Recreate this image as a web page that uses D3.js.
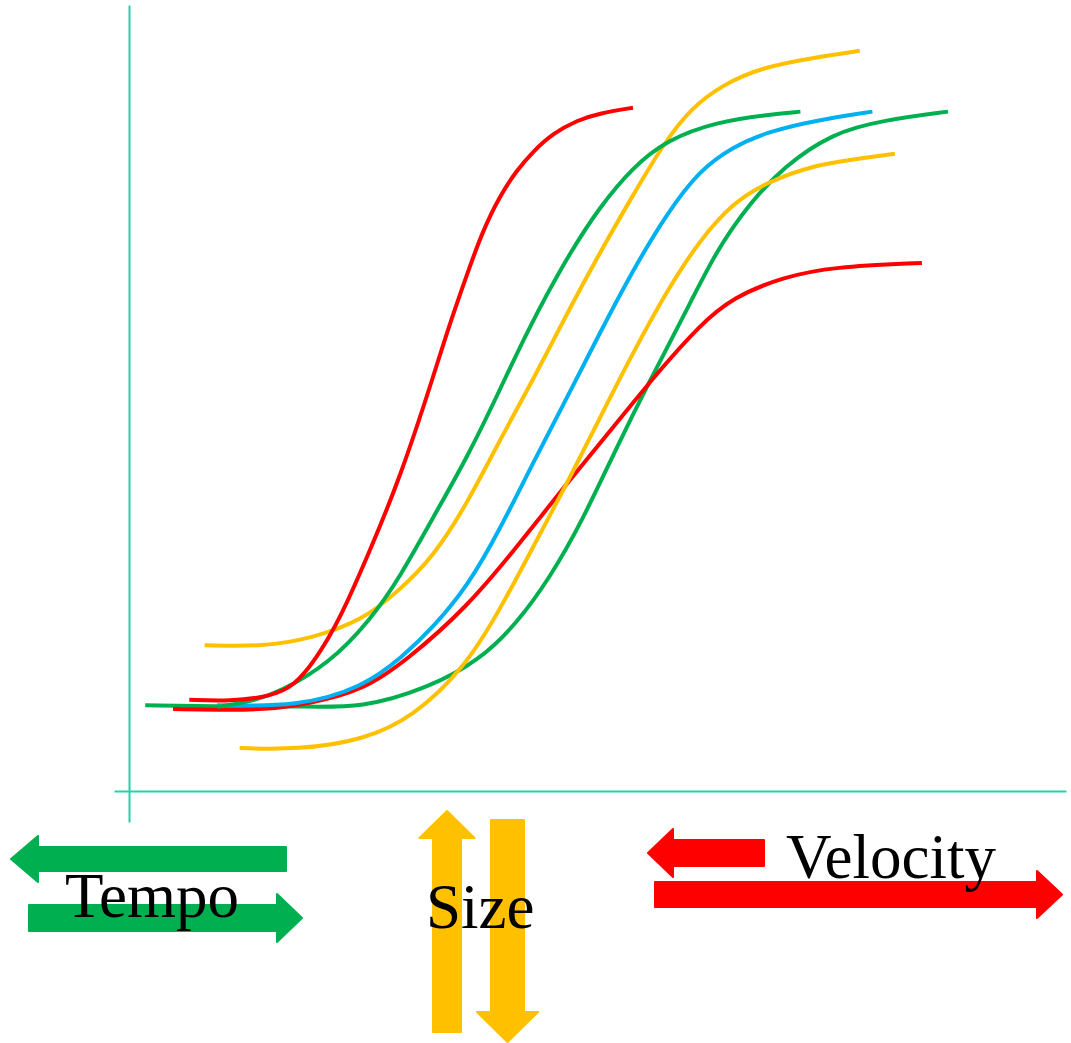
<!DOCTYPE html>
<html><head><meta charset="utf-8">
<script src="https://cdn.jsdelivr.net/npm/d3@7"></script>
<style>html,body{margin:0;padding:0;background:#fff;}</style>
</head><body>
<script>
// ---- data (x, y in 0..100 units) ----
const red1 = [[6.7,11.7],[11.2,11.5],[15.7,12.1],[18.4,13.5],[20.7,16.8],[23.4,21.9],[26.8,30.9],[30.1,40.1],[33.7,52.7],[35.4,59.1],[37.6,66.4],[39.3,71.8],[41.2,76.3],[43.1,79.6],[44.9,82.0],[47.1,84.3],[49.8,86.0],[52.3,86.9],[56.0,87.6]];
const green1 = [[9.8,10.8],[13.4,11.4],[16.8,12.7],[22.3,16.4],[26.8,21.9],[30.1,27.4],[33.8,35.1],[37.6,42.8],[41.2,51.4],[44.3,59.1],[48.7,68.5],[52.3,74.9],[56.0,80.0],[59.8,83.5],[65.3,85.8],[70.9,86.7],[74.6,87.1]];
const yellow1 = [[8.4,18.7],[14.9,18.5],[20.4,19.6],[26.0,21.9],[30.1,25.8],[33.8,30.0],[37.6,36.9],[41.2,45.0],[44.9,52.7],[48.7,61.3],[52.3,69.0],[56.0,76.4],[59.3,82.8],[62.3,87.4],[66.0,90.6],[70.4,92.8],[76.0,94.0],[81.2,94.9]];
const blue1 = [[9.8,11.0],[18.7,10.8],[26.0,13.3],[30.4,17.2],[33.8,21.0],[37.6,26.2],[41.2,33.5],[44.9,42.1],[48.7,50.5],[52.3,58.7],[56.0,66.8],[59.8,74.1],[63.4,79.6],[67.1,82.6],[70.9,84.5],[76.4,86.0],[82.6,87.1]];
const red2 = [[4.9,10.5],[10.1,10.4],[14.9,10.4],[20.1,11.2],[26.0,12.9],[30.9,16.8],[37.6,23.6],[43.1,31.3],[48.7,39.5],[54.2,47.2],[58.7,53.6],[63.4,59.7],[67.1,63.3],[72.7,65.9],[78.2,67.2],[88.1,67.7]];
const yellow2 = [[12.3,5.5],[18.7,5.3],[26.0,6.5],[31.6,9.5],[37.3,15.8],[41.2,23.2],[44.9,31.3],[48.7,39.5],[52.3,47.8],[56.0,56.2],[59.8,64.2],[63.4,70.6],[67.1,75.4],[70.9,78.1],[76.4,80.3],[80.1,80.9],[85.1,81.7]];
const green2 = [[1.8,11.0],[11.2,10.8],[18.7,10.9],[26.0,10.6],[33.4,13.3],[39.0,16.8],[43.1,21.5],[46.8,27.4],[50.4,34.7],[54.2,44.1],[57.9,52.7],[61.6,60.8],[65.3,69.4],[69.0,75.4],[72.7,80.0],[78.2,84.4],[83.8,86.0],[91.0,87.1]];
const seriesData = [green2, red2, yellow2, blue1, yellow1, green1, red1];
const seriesColors = ["#00B050","#FF0000","#FFC000","#00B0F0","#FFC000","#00B050","#FF0000"];
const labels = ["Tempo","Size","Velocity"];

const W = 1071, H = 1043;
const svg = d3.select("body").append("svg").attr("width", W).attr("height", H);

const x = d3.scaleLinear().domain([0,100]).range([129,1029]);
const y = d3.scaleLinear().domain([0,100]).range([791,11]);

// axes (no ticks), extended to form a cross
const axisColor = "#22D3A5";
const xAxisScale = d3.scaleLinear().domain([x.invert(114), x.invert(1066)]).range([114,1066]);
const yAxisScale = d3.scaleLinear().domain([y.invert(822), y.invert(5)]).range([822,5]);
svg.append("g").attr("transform", `translate(0,${y(0)})`)
  .call(d3.axisBottom(xAxisScale).ticks(0).tickSize(0).tickSizeOuter(0));
svg.append("g").attr("transform", `translate(${x(0)},0)`)
  .call(d3.axisLeft(yAxisScale).ticks(0).tickSize(0).tickSizeOuter(0));
svg.selectAll(".domain").attr("stroke", axisColor).attr("stroke-width", 2);

// curves
const line = d3.line().x(d => x(d[0])).y(d => y(d[1])).curve(d3.curveBasis);
svg.append("g").selectAll("path").data(seriesData).join("path")
  .attr("d", line).attr("fill","none")
  .attr("stroke", (d,i) => seriesColors[i]).attr("stroke-width", 4).attr("stroke-linecap","butt");

// arrows
function hArrow(tail, tip, cy, bh, hh, hl){
  const s = Math.sign(tip - tail), b = tip - s*hl;
  return `M${tail},${cy-bh}L${b},${cy-bh}L${b},${cy-hh}L${tip},${cy}L${b},${cy+hh}L${b},${cy+bh}L${tail},${cy+bh}Z`;
}
function vArrow(tail, tip, cx, bw, hw, hl){
  const s = Math.sign(tip - tail), b = tip - s*hl;
  return `M${cx-bw},${tail}L${cx-bw},${b}L${cx-hw},${b}L${cx},${tip}L${cx+hw},${b}L${cx+bw},${b}L${cx+bw},${tail}Z`;
}
const arrows = [
  {d: hArrow(286, 11, 859, 12, 23, 27), c:"#00B050"},
  {d: hArrow(29, 302, 918, 13, 24, 25), c:"#00B050"},
  {d: vArrow(1032, 811, 447, 14, 27.5, 27), c:"#FFC000"},
  {d: vArrow(820, 1042, 507.5, 16.5, 30.5, 30), c:"#FFC000"},
  {d: hArrow(764, 648, 853, 13, 24, 25), c:"#FF0000"},
  {d: hArrow(655, 1062, 894.5, 12.5, 23.5, 25), c:"#FF0000"}
];
svg.append("g").selectAll("path").data(arrows).join("path")
  .attr("d", d => d.d).attr("fill", d => d.c).attr("stroke", d => d.c)
  .attr("stroke-width", 2).attr("stroke-linejoin","round");

const labelPos = [[65,917],[426,928],[786,878]];
svg.append("g").selectAll("text").data(labels).join("text")
  .attr("x", (d,i) => labelPos[i][0]).attr("y", (d,i) => labelPos[i][1])
  .attr("font-family","'Liberation Serif', 'Times New Roman', serif")
  .attr("font-size", 63).attr("fill","#000").text(d => d);
</script>
</body></html>
